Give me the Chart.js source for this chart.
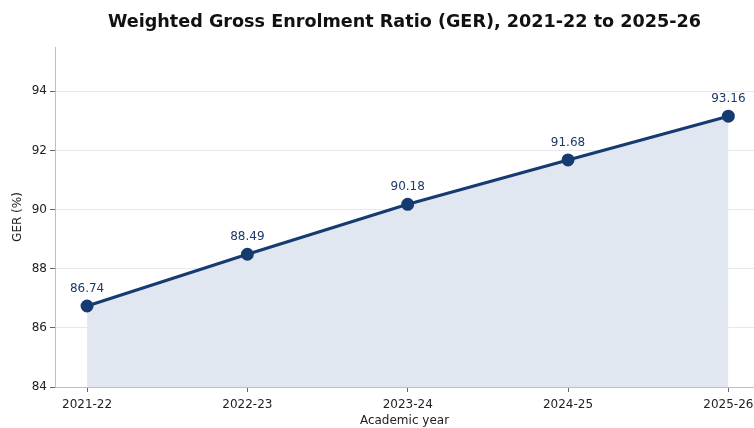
<!DOCTYPE html>
<html>
<head>
<meta charset="utf-8">
<title>Weighted GER</title>
<script src="https://cdn.jsdelivr.net/npm/chart.js@4.4.1/dist/chart.umd.min.js"></script>
<style>
  html, body { margin: 0; padding: 0; background: #fff; overflow: hidden; }
  #wrap { width: 754px; height: 428px; }
</style>
</head>
<body>
<div id="wrap"><canvas id="gerChart" width="754" height="428"></canvas></div>
<script>
// data
const years = ['2021-22', '2022-23', '2023-24', '2024-25', '2025-26'];
const ger_values = [86.74, 88.49, 90.18, 91.68, 93.16];
const y_ticks = [84, 86, 88, 90, 92, 94];

const navy = '#163b70';

// value labels above each point
const pointLabels = {
  id: 'pointLabels',
  afterDatasetsDraw(chart) {
    const ctx = chart.ctx;
    const meta = chart.getDatasetMeta(0);
    ctx.save();
    ctx.font = '12px "DejaVu Sans"';
    ctx.fillStyle = '#1e3a6b';
    ctx.textAlign = 'center';
    ctx.textBaseline = 'middle';
    meta.data.forEach((pt, i) => {
      ctx.fillText(ger_values[i].toFixed(2), pt.x, pt.y - 17);
    });
    ctx.restore();
  }
};

Chart.defaults.font.family = '"DejaVu Sans", sans-serif';
Chart.defaults.color = '#333';

new Chart(document.getElementById('gerChart'), {
  type: 'line',
  data: {
    datasets: [{
      data: ger_values.map((v, i) => ({ x: i, y: v })),
      borderColor: navy,
      borderWidth: 3,
      pointRadius: 5,
      pointBackgroundColor: navy,
      pointBorderColor: navy,
      fill: 'start',
      backgroundColor: '#e1e7f0',
      tension: 0,
      clip: false
    }]
  },
  options: {
    responsive: false,
    animation: false,
    layout: { padding: 0, autoPadding: false },
    plugins: {
      legend: { display: false },
      tooltip: { enabled: false },
      title: {
        display: true,
        fullSize: false,
        text: 'Weighted Gross Enrolment Ratio (GER), 2021-22 to 2025-26',
        color: '#111',
        font: { size: 17.6, weight: 'bold' },
        padding: { top: 12, bottom: 13.9 }
      }
    },
    scales: {
      x: {
        type: 'linear',
        min: -0.2,
        max: 4.16,
        afterBuildTicks: (scale) => {
          scale.ticks = years.map((_, i) => ({ value: i }));
        },
        afterFit: (scale) => {
          scale.height = 41;
          // let the last label run to the edge like the original
          scale.paddingLeft = 0;
          scale.paddingRight = 0;
        },
        ticks: {
          callback: (v) => years[v],
          font: { size: 12 },
          color: '#222',
          padding: 6,
          maxRotation: 0
        },
        grid: {
          drawOnChartArea: false,
          drawTicks: true,
          tickLength: 5,
          tickColor: '#666'
        },
        border: { color: '#b7c2d1', width: 1 },
        title: {
          display: true,
          text: 'Academic year',
          font: { size: 12 },
          color: '#222',
          padding: 0
        }
      },
      y: {
        min: 84,
        max: 95.5,
        afterBuildTicks: (scale) => {
          scale.ticks = y_ticks.map((v) => ({ value: v }));
        },
        afterFit: (scale) => { scale.width = 55; },
        ticks: {
          font: { size: 12 },
          color: '#222',
          padding: 3
        },
        grid: {
          color: '#e4e9f0',
          lineWidth: 1,
          tickLength: 5,
          tickColor: '#666'
        },
        border: { color: '#b7c2d1', width: 1 },
        title: {
          display: true,
          text: 'GER (%)',
          font: { size: 12 },
          color: '#222',
          padding: { top: 11, bottom: 0 }
        }
      }
    }
  },
  plugins: [pointLabels]
});
</script>
</body>
</html>
